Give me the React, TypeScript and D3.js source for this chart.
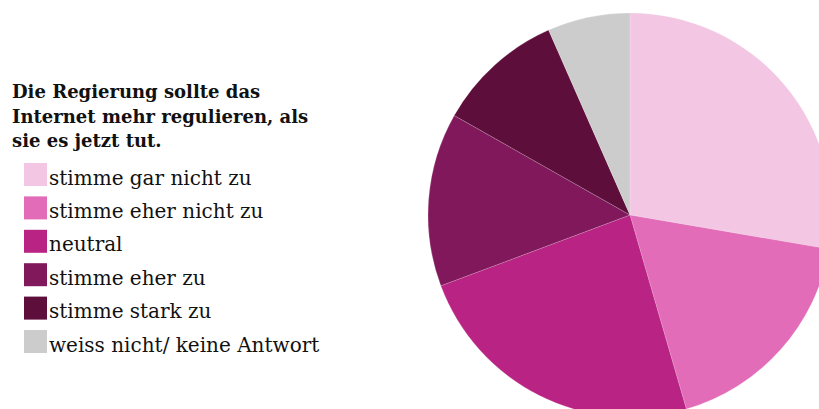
import React from "react";
import * as d3 from "d3";

const title = ["Die Regierung sollte das", "Internet mehr regulieren, als", "sie es jetzt tut."];
const categories = [
  "stimme gar nicht zu",
  "stimme eher nicht zu",
  "neutral",
  "stimme eher zu",
  "stimme stark zu",
  "weiss nicht/ keine Antwort",
];
const values = [27.7, 17.8, 23.8, 13.9, 10.2, 6.6];
const colors = ["#f3c6e3", "#e36cb8", "#b92383", "#82185c", "#5e0e3b", "#cccccc"];

const W = 819;
const H = 409;
const cx = 630;
const cy = 215;
const R = 202;

export default function App() {
  const pie = d3.pie<number>().sort(null).value((d) => d)(values);
  const arc = d3.arc<d3.PieArcDatum<number>>().innerRadius(0).outerRadius(R);
  const font = "'DejaVu Serif', serif";
  return (
    <svg width={W} height={H} style={{ position: "absolute", left: 0, top: 0, background: "#fff" }}>
      <g transform={`translate(${cx},${cy})`}>
        {pie.map((p, i) => (
          <path key={i} d={arc(p) || ""} fill={colors[i]} stroke="#ffffff" strokeOpacity={0.35} strokeWidth={0.5} />
        ))}
      </g>
      <g fontFamily={font}>
        {title.map((t, i) => (
          <text key={i} x={12} y={98 + i * 24.5} fontSize={18} fontWeight="bold" fill="#111">
            {t}
          </text>
        ))}
        {categories.map((c, i) => (
          <g key={c} transform={`translate(24,${163 + i * 33.4})`}>
            <rect width={23} height={23} fill={colors[i]} />
            <text x={25} y={21.5} fontSize={20} fill="#111">
              {c}
            </text>
          </g>
        ))}
      </g>
    </svg>
  );
}
